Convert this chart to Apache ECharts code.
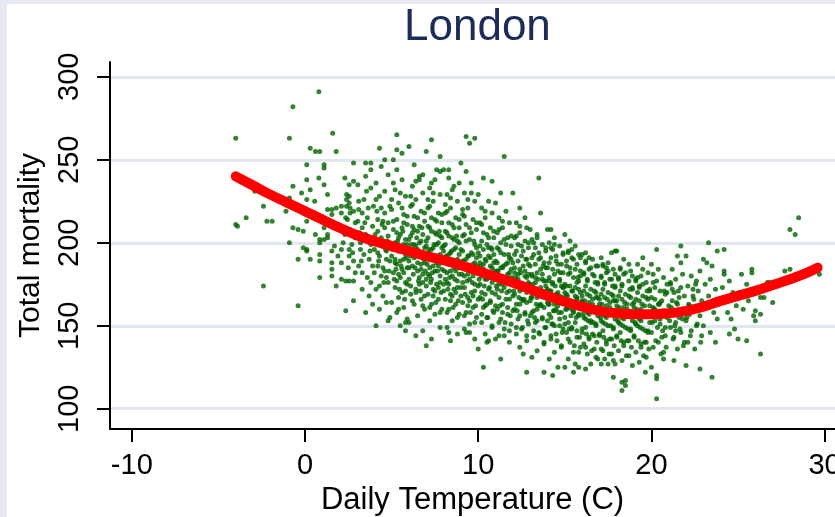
<!DOCTYPE html>
<html>
<head>
<meta charset="utf-8">
<title>London</title>
<script src="https://cdn.jsdelivr.net/npm/echarts@6/dist/echarts.min.js"></script>
<style>
  html, body { margin: 0; padding: 0; background: #e6e9f2; overflow: hidden; }
  #chart { width: 835px; height: 517px; }
</style>
</head>
<body>
<div id="chart"></div>
<script>
// ---- data: [daily temperature (C), total deaths] ----
var coldDays = [
  [-4.0,263],[-3.9,210],[-4.0,211],[-3.4,215],[-2.9,231],[-2.4,222],[-2.4,174],[-2.2,213],[-1.9,213],[-1.1,219],[-0.9,263],[-0.7,282],[-0.7,234],[-0.9,227],[-0.9,200],[-0.7,209],[-0.4,208],[-0.2,230],[-0.1,207],[-0.1,197],[-0.4,190],[-0.4,162],
  [0.8,291],[0.3,257],[0.6,255],[0.85,255],[0.1,247],[0.1,238],[0.8,239],[0.3,232],[0.1,226],[0.56,225],[0.1,213],[0.1,196],[0.1,195],[0.6,205],[0.85,202],[0.85,200],[0.3,190],[0.85,193],[0.85,189],[0.85,179],
  [1.6,266],[1.8,255],[1.1,247],[1.1,245],[1.1,235],[1.3,229],[1.3,220],[1.55,220],[1.8,221],[1.55,217],[1.1,202],[1.1,209],[1.3,205],[1.3,203],[1.55,195],[1.55,188],[1.55,184],[1.55,180],[1.8,174],[1.9,210],[1.7,198],[1.9,192],[1.4,213],
  [2.3,239],[2.55,235],[2.8,237],[2.8,248],[2.4,229],[2.55,228],[2.4,226],[2.55,224],[2.1,222],[2.4,222],[2.6,221],[2.1,218],[2.35,215],[2.6,218],[2.8,219],[2.1,178],[2.35,177],[2.55,177],[2.8,177],[2.8,165],[2.35,159],[2.1,196],[2.1,188],[2.55,196],[2.55,192],[2.8,189],[2.3,205],[2.6,208],[2.9,203],[2.2,200],[2.7,199],[2.9,212],[2.5,185],[2.9,182],
  [3.05,235],[3.5,248],[3.8,248],[3.8,244],[3.5,240],[3.55,231],[3.8,233],[3.1,220],[3.3,218],[3.05,213],[3.3,209],[3.5,205],[3.6,202],[3.8,199],[3.2,196],[3.4,193],[3.7,190],[3.9,186],[3.1,186],[3.3,182],[3.6,179],[3.8,176],[3.3,172],[3.7,168],[3.9,163],[3.5,158],[3.2,200],[3.9,210],[3.4,226],[3.6,215],[3.95,222],[3.1,225]
];
var mildDays = [
  [4.1,236],[4.3,228],[4.4,221],[4.2,214],[4.6,209],[4.8,204],[4.1,201],[4.5,198],[4.7,195],[4.3,192],[4.9,189],[4.2,186],[4.6,183],[4.4,180],[4.8,176],[4.1,172],[4.5,168],[4.7,164],[4.3,160],[4.9,155],[4.6,218],[4.2,207],[4.8,212],[4.4,203],[4.0,196],[4.7,190],[4.3,199],[4.5,185],[4.9,222],[4.1,226],[4.6,231],[4.8,241],[4.4,246],[4.3,174],[4.7,179],[4.2,194],[4.9,200],[4.5,213],[4.0,182],[4.1,150],[4.3,257],[4.6,250],[4.8,153],
  [5.1,250],[5.3,244],[5.6,238],[5.2,232],[5.8,228],[5.4,224],[5.0,220],[5.7,217],[5.3,214],[5.9,211],[5.1,208],[5.5,205],[5.8,202],[5.2,200],[5.6,197],[5.4,195],[5.0,192],[5.7,190],[5.3,187],[5.9,185],[5.1,182],[5.5,179],[5.8,176],[5.2,173],[5.6,170],[5.4,167],[5.0,164],[5.7,161],[5.3,158],[5.9,154],[5.5,150],[5.8,147],[5.6,209],[5.8,193],[5.1,198],[5.4,203],[5.7,182],[5.3,177],[5.9,216],[5.0,226],[5.5,230],[5.2,188],[5.8,171],[5.4,160],[5.6,221],[5.1,236],[5.9,199],[5.3,206],[5.7,212],[5.5,189],[5.3,265],[5.3,256],[5.6,254],[5.8,152],
  [6.0,258],[6.3,247],[6.6,240],[6.2,234],[6.8,230],[6.4,226],[6.1,222],[6.7,219],[6.3,216],[6.9,213],[6.2,210],[6.5,207],[6.8,205],[6.0,202],[6.6,200],[6.4,198],[6.1,196],[6.7,193],[6.3,191],[6.9,188],[6.2,186],[6.5,183],[6.8,181],[6.0,178],[6.6,175],[6.4,172],[6.1,169],[6.7,166],[6.3,163],[6.9,160],[6.5,156],[6.0,152],[6.8,147],[6.4,144],[6.6,210],[6.1,204],[6.9,197],[6.3,199],[6.7,184],[6.0,189],[6.5,215],[6.2,223],[6.8,176],[6.4,170],[6.1,192],[6.7,201],[6.3,208],[6.9,218],[6.0,185],[6.6,179],[6.4,237],[6.2,165],[6.8,194],[6.5,188],[6.1,228],[6.8,241],[6.6,238],
  [7.0,255],[7.3,262],[7.8,252],[7.6,244],[7.8,243],[7.2,233],[7.8,229],[7.4,225],[7.1,221],[7.7,218],[7.3,215],[7.9,212],[7.2,209],[7.5,206],[7.8,204],[7.0,201],[7.6,199],[7.4,197],[7.1,194],[7.7,192],[7.3,190],[7.9,188],[7.2,185],[7.5,183],[7.8,180],[7.0,178],[7.6,175],[7.4,172],[7.1,169],[7.7,166],[7.3,163],[7.9,160],[7.5,157],[7.2,153],[7.8,149],[7.3,142],[7.0,138],[7.1,210],[7.9,203],[7.3,196],[7.7,186],[7.0,191],[7.5,214],[7.2,222],[7.8,176],[7.4,168],[7.1,181],[7.7,200],[7.3,207],[7.9,217],[7.0,174],[7.6,188],[7.4,230],[7.2,161],[7.8,193],[7.5,171],[7.1,226],[7.6,205],[7.3,178],[7.9,184],[7.0,198],[7.5,238],[7.3,236],
  [8.0,244],[8.3,244],[8.3,239],[8.6,234],[8.2,229],[8.8,225],[8.4,221],[8.1,218],[8.7,215],[8.3,212],[8.9,209],[8.2,206],[8.5,203],[8.8,201],[8.0,198],[8.6,196],[8.4,194],[8.1,191],[8.7,189],[8.3,187],[8.9,185],[8.2,182],[8.5,180],[8.8,177],[8.0,175],[8.6,172],[8.4,169],[8.1,166],[8.7,163],[8.3,160],[8.9,157],[8.5,153],[8.2,149],[8.3,146],[8.8,145],[8.4,141],[8.1,207],[8.9,200],[8.3,193],[8.7,183],[8.0,188],[8.5,211],[8.2,219],[8.8,173],[8.4,165],[8.1,178],[8.7,197],[8.3,204],[8.9,214],[8.0,171],[8.6,185],[8.4,227],[8.2,158],[8.8,190],[8.5,168],[8.1,223],[8.6,202],[8.3,175],[8.9,181],[8.0,195],[8.5,232],[8.9,236],
  [9.3,264],[9.5,260],[9.8,263],[9.3,243],[9.0,248],[9.6,236],[9.2,230],[9.8,225],[9.4,221],[9.1,217],[9.7,214],[9.3,211],[9.9,208],[9.2,205],[9.5,202],[9.8,199],[9.0,196],[9.6,194],[9.4,192],[9.1,189],[9.7,187],[9.3,185],[9.9,183],[9.2,180],[9.5,178],[9.8,175],[9.0,173],[9.6,170],[9.4,167],[9.1,164],[9.7,161],[9.3,158],[9.9,155],[9.5,151],[9.2,148],[9.3,146],[9.5,146],[9.8,142],[9.1,204],[9.9,197],[9.3,190],[9.7,180],[9.0,186],[9.5,209],[9.2,216],[9.8,171],[9.4,162],[9.1,176],[9.7,193],[9.3,201],[9.9,212],[9.0,168],[9.6,183],[9.4,226],[9.2,156],[9.8,188],[9.5,165],[9.1,220],[9.6,230]
];
var warmDays = [
  [10.3,239],[10.8,237],[10.0,229],[10.6,225],[10.2,221],[10.8,218],[10.4,215],[10.1,212],[10.7,209],[10.3,206],[10.9,203],[10.2,201],[10.5,199],[10.8,196],[10.0,194],[10.6,192],[10.4,190],[10.1,188],[10.7,186],[10.3,184],[10.9,182],[10.2,180],[10.5,178],[10.8,176],[10.0,174],[10.6,172],[10.4,169],[10.1,167],[10.7,164],[10.3,161],[10.9,158],[10.5,155],[10.2,152],[10.8,149],[10.4,145],[10.6,141],[10.0,136],[10.5,140],[10.3,125],[10.1,198],[10.9,193],[10.3,187],[10.7,179],[10.0,183],[10.5,205],[10.2,211],[10.8,170],[10.4,162],[10.1,175],[10.7,191],[10.3,196],[10.9,207],[10.0,166],[10.6,181],[10.4,219],[10.2,157],[10.8,185],[10.5,163],[10.6,197],
  [11.5,252],[11.3,230],[11.0,224],[11.6,219],[11.2,215],[11.8,212],[11.4,209],[11.1,206],[11.7,203],[11.3,200],[11.9,198],[11.2,196],[11.5,193],[11.8,191],[11.0,189],[11.6,187],[11.4,185],[11.1,183],[11.7,181],[11.3,179],[11.9,177],[11.2,175],[11.5,173],[11.8,171],[11.0,169],[11.6,166],[11.4,163],[11.1,160],[11.7,157],[11.3,154],[11.9,151],[11.5,148],[11.2,144],[11.8,140],[11.0,142],[11.5,144],[11.3,130],[11.1,197],[11.9,190],[11.3,185],[11.7,176],[11.0,180],[11.5,202],[11.2,208],[11.8,166],[11.4,158],[11.1,172],[11.7,188],[11.3,194],[11.9,204],[11.0,162],[11.6,178],[11.4,213],[11.2,152],[11.8,182],
  [12.0,230],[12.4,221],[12.7,215],[12.2,212],[12.8,209],[12.4,206],[12.1,203],[12.7,201],[12.3,199],[12.9,197],[12.2,195],[12.5,192],[12.8,190],[12.0,188],[12.6,186],[12.4,184],[12.1,182],[12.7,180],[12.3,178],[12.9,176],[12.2,174],[12.5,172],[12.8,170],[12.0,168],[12.6,165],[12.4,163],[12.1,160],[12.7,157],[12.3,154],[12.9,151],[12.5,148],[12.2,145],[12.8,141],[12.4,137],[12.6,133],[12.8,122],[12.1,193],[12.9,187],[12.3,181],[12.7,173],[12.0,177],[12.5,198],[12.2,204],[12.8,164],[12.4,156],[12.1,169],[12.7,183],[12.3,189],[12.9,200],[12.0,159],[12.6,175],[12.4,210],[12.2,149],[12.8,179],[12.5,166],
  [13.5,239],[13.6,218],[13.0,208],[13.4,205],[13.1,202],[13.7,199],[13.3,197],[13.9,195],[13.2,193],[13.5,190],[13.8,188],[13.0,186],[13.6,184],[13.4,182],[13.1,180],[13.7,178],[13.3,176],[13.9,174],[13.2,172],[13.5,170],[13.8,168],[13.0,165],[13.6,163],[13.4,160],[13.1,158],[13.7,155],[13.3,152],[13.9,149],[13.5,146],[13.2,143],[13.8,139],[13.4,135],[13.1,131],[13.8,122],[13.1,191],[13.9,185],[13.3,179],[13.7,171],[13.0,174],[13.5,194],[13.2,200],[13.8,161],[13.4,153],[13.1,167],[13.7,181],[13.3,187],[13.9,197],[13.0,156],[13.6,173],[13.4,203],[13.2,147],[13.8,177],[13.5,162],
  [14.0,208],[14.2,208],[14.4,203],[14.1,200],[14.7,198],[14.3,196],[14.9,194],[14.2,191],[14.5,189],[14.8,187],[14.0,185],[14.6,183],[14.4,181],[14.1,179],[14.7,177],[14.3,175],[14.9,173],[14.2,171],[14.5,169],[14.8,167],[14.0,164],[14.6,162],[14.4,159],[14.1,157],[14.7,154],[14.3,151],[14.9,148],[14.5,145],[14.2,142],[14.8,138],[14.4,134],[14.1,130],[14.6,125],[14.3,120],[14.1,188],[14.9,182],[14.3,176],[14.7,168],[14.0,172],[14.5,192],[14.2,197],[14.8,158],[14.4,150],[14.1,163],[14.7,178],[14.3,184],[14.9,193],[14.0,153],[14.6,170],[14.4,199],[14.2,144],[14.8,174],[14.5,160],
  [15.0,205],[15.3,201],[15.6,198],[15.2,195],[15.8,193],[15.4,191],[15.1,189],[15.7,187],[15.3,185],[15.9,183],[15.2,181],[15.5,179],[15.8,177],[15.0,175],[15.6,173],[15.4,171],[15.1,169],[15.7,167],[15.3,165],[15.9,163],[15.2,161],[15.5,159],[15.8,157],[15.0,155],[15.6,152],[15.4,149],[15.1,146],[15.7,143],[15.3,140],[15.9,137],[15.5,134],[15.2,130],[15.0,125],[15.6,127],[15.8,125],[15.5,122],[15.1,186],[15.9,180],[15.3,174],[15.7,166],[15.0,170],[15.5,190],[15.2,194],[15.8,156],[15.4,148],[15.1,160],[15.7,176],[15.3,182],[15.9,191],[15.0,151],[15.6,168],[15.4,196],[15.2,142],[15.8,172],[15.5,158]
];
var hotDays = [
  [16.2,194],[16.0,193],[16.6,190],[16.2,188],[16.8,186],[16.4,184],[16.1,182],[16.7,180],[16.3,178],[16.9,176],[16.2,174],[16.5,172],[16.8,170],[16.0,168],[16.6,166],[16.4,164],[16.1,162],[16.7,160],[16.3,158],[16.9,156],[16.2,154],[16.5,152],[16.8,150],[16.0,148],[16.6,145],[16.4,142],[16.1,139],[16.7,136],[16.3,133],[16.9,130],[16.5,127],[16.2,124],[16.1,181],[16.9,175],[16.3,169],[16.7,161],[16.0,165],[16.5,185],[16.2,189],[16.8,151],[16.4,143],[16.1,155],[16.7,171],[16.3,177],[16.9,186],[16.0,146],[16.6,163],[16.4,191],[16.2,137],[16.8,167],[16.5,153],
  [17.9,195],[17.7,194],[17.1,191],[17.5,188],[17.2,186],[17.8,184],[17.4,182],[17.1,180],[17.7,178],[17.3,176],[17.9,174],[17.2,172],[17.5,170],[17.8,168],[17.0,166],[17.6,164],[17.4,162],[17.1,160],[17.7,158],[17.3,156],[17.9,154],[17.2,152],[17.5,150],[17.8,148],[17.0,145],[17.6,142],[17.4,139],[17.1,136],[17.7,133],[17.3,130],[17.9,127],[17.1,127],[17.5,127],[17.8,119],[17.1,179],[17.9,173],[17.3,167],[17.7,159],[17.0,163],[17.5,183],[17.2,187],[17.8,149],[17.4,141],[17.1,153],[17.7,169],[17.3,175],[17.9,181],[17.0,144],[17.6,161],[17.4,185],[17.2,135],[17.8,165],
  [18.0,195],[18.4,190],[18.7,187],[18.2,185],[18.8,183],[18.4,181],[18.1,179],[18.7,177],[18.3,175],[18.9,173],[18.2,171],[18.5,169],[18.8,167],[18.0,165],[18.6,163],[18.4,161],[18.1,159],[18.7,157],[18.3,155],[18.9,153],[18.2,151],[18.5,149],[18.8,147],[18.0,144],[18.6,141],[18.4,138],[18.1,135],[18.7,132],[18.3,129],[18.9,126],[18.3,116],[18.5,117],[18.5,114],[18.3,111],[18.1,178],[18.9,172],[18.3,166],[18.7,158],[18.0,162],[18.5,182],[18.2,184],[18.8,148],[18.4,140],[18.1,152],[18.7,168],[18.3,174],[18.9,180],[18.0,143],[18.6,160],
  [19.5,191],[19.5,184],[19.2,187],[19.8,182],[19.4,180],[19.1,178],[19.7,176],[19.3,174],[19.9,172],[19.2,170],[19.5,168],[19.8,166],[19.0,164],[19.6,162],[19.4,160],[19.1,158],[19.7,156],[19.3,154],[19.9,152],[19.2,150],[19.5,148],[19.8,146],[19.0,143],[19.6,140],[19.4,137],[19.1,134],[19.7,131],[19.3,128],[19.65,122],[19.1,177],[19.9,171],[19.3,165],[19.7,157],[19.0,161],[19.5,175],[19.2,179],[19.8,147],[19.4,139],[19.1,151],[19.7,167],[19.3,173],[19.0,144],
  [20.3,196],[20.0,187],[20.4,184],[20.1,181],[20.7,179],[20.3,177],[20.9,175],[20.2,173],[20.5,171],[20.8,169],[20.0,167],[20.6,165],[20.4,163],[20.1,161],[20.7,159],[20.3,157],[20.9,155],[20.2,153],[20.5,151],[20.8,149],[20.0,146],[20.6,143],[20.4,140],[20.1,137],[20.7,134],[20.7,130],[20.0,125],[20.3,120],[20.3,118],[20.3,106],[20.1,176],[20.9,170],[20.5,164],[20.6,156],[20.2,160],[20.8,144],
  [21.7,198],[21.7,188],[21.5,192],[21.2,184],[21.8,181],[21.4,178],[21.1,176],[21.7,173],[21.3,170],[21.9,168],[21.2,165],[21.5,163],[21.8,160],[21.0,158],[21.6,155],[21.4,152],[21.1,149],[21.7,146],[21.3,143],[21.9,140],[21.5,136],[21.3,129],[21.2,172],[21.6,167],[21.0,162],[21.8,154],[21.4,147],[21.1,175],
  [22.0,192],[22.8,183],[22.3,180],[22.6,177],[22.1,174],[22.7,171],[22.4,168],[22.9,165],[22.2,162],[22.5,159],[22.8,156],[22.0,153],[22.6,150],[22.3,147],[22.9,144],[22.1,140],[22.5,136],[22.0,126],[22.8,124],[22.4,172],[22.7,161],[22.2,157],
  [23.3,200],[23.0,190],[23.2,188],[23.5,186],[23.4,178],[23.1,175],[23.7,172],[23.3,168],[23.9,165],[23.2,161],[23.6,158],[23.8,154],[23.0,150],[23.4,146],[23.5,119],[23.7,140],[23.1,163],
  [24.2,196],[23.8,195],[24.2,183],[24.2,181],[24.5,177],[24.1,173],[24.7,170],[24.3,166],[24.9,162],[24.4,158],[24.8,148],[24.5,145],[24.6,154],
  [25.2,181],[25.8,184],[25.8,182],[25.5,175],[25.1,170],[25.6,165],[25.3,160],[25.9,156],[25.0,142],[25.5,141],
  [26.0,159],[26.3,157],[26.0,153],[26.3,167],[26.5,167],[26.3,133],[26.7,176],[26.5,173],[26.8,176],
  [27.0,164],[27.7,183],[28.0,184],[28.5,215],[28.0,208],[28.3,205],[29.7,181]
];
// extra days in the crowded middle of the cloud
var coreDays = [
  [2.15,207],[2.45,214],[2.75,194],[3.15,206],[3.45,212],[3.75,195],[3.25,189],[3.65,221],[4.05,205],[4.25,189],[4.45,211],[4.65,196],[4.85,183],[4.15,219],[4.55,176],[4.75,201],
  [5.05,196],[5.25,184],[5.45,172],[5.65,207],[5.85,191],[5.15,178],[5.35,201],[5.55,186],[5.75,166],[5.95,195],[5.1,213],[5.4,181],[5.7,199],[5.9,175],[5.2,190],[5.6,184],
  [6.05,194],[6.25,181],[6.45,203],[6.65,171],[6.85,190],[6.15,199],[6.35,185],[6.55,177],[6.75,209],[6.95,183],[6.1,174],[6.4,192],[6.7,187],[6.9,168],[6.2,206],[6.5,196],[6.8,162],
  [7.05,187],[7.25,176],[7.45,199],[7.65,183],[7.85,170],[7.15,196],[7.35,182],[7.55,164],[7.75,207],[7.95,191],[7.1,203],[7.4,186],[7.7,173],[7.9,197],[7.2,180],[7.5,192],[7.8,158],[7.6,213],
  [8.05,183],[8.25,172],[8.45,195],[8.65,178],[8.85,165],[8.15,192],[8.35,179],[8.55,161],[8.75,204],[8.95,188],[8.1,199],[8.4,183],[8.7,170],[8.9,193],[8.2,176],[8.5,187],[8.8,155],[8.6,209],
  [9.05,181],[9.25,169],[9.45,192],[9.65,176],[9.85,162],[9.15,189],[9.35,177],[9.55,158],[9.75,201],[9.95,186],[9.1,195],[9.4,181],[9.7,168],[9.9,191],[9.2,173],[9.5,185],[9.8,152],[9.6,206],
  [10.05,178],[10.25,166],[10.45,189],[10.65,173],[10.85,159],[10.15,186],[10.35,174],[10.55,155],[10.75,197],[10.95,183],[10.1,192],[10.4,178],[10.7,165],[10.9,188],[10.2,170],[10.5,182],[10.8,150],[10.6,203],
  [11.05,174],[11.25,162],[11.45,186],[11.65,170],[11.85,156],[11.15,183],[11.35,171],[11.55,152],[11.75,193],[11.95,179],[11.1,188],[11.4,175],[11.7,161],[11.9,184],[11.2,167],[11.5,178],[11.8,147],[11.6,199],
  [12.05,171],[12.25,159],[12.45,182],[12.65,166],[12.85,153],[12.15,179],[12.35,167],[12.55,149],[12.75,190],[12.95,175],[12.1,185],[12.4,171],[12.7,158],[12.9,181],[12.2,163],[12.5,174],[12.8,144],[12.6,195],
  [13.05,167],[13.25,155],[13.45,178],[13.65,162],[13.85,149],[13.15,175],[13.35,163],[13.55,145],[13.75,186],[13.95,171],[13.1,181],[13.4,167],[13.7,154],[13.9,177],[13.2,159],[13.5,170],[13.8,140],[13.6,191],
  [14.05,163],[14.25,151],[14.45,174],[14.65,158],[14.85,146],[14.15,171],[14.35,159],[14.55,141],[14.75,182],[14.95,167],[14.1,177],[14.4,163],[14.7,150],[14.9,173],[14.2,155],[14.5,166],[14.8,137],[14.6,187],
  [15.05,160],[15.25,148],[15.45,171],[15.65,155],[15.85,143],[15.15,168],[15.35,156],[15.55,138],[15.75,179],[15.95,164],[15.1,174],[15.4,160],[15.7,147],[15.9,170],[15.2,152],[15.5,163],[15.8,134],[15.6,184],
  [16.05,157],[16.25,145],[16.45,168],[16.65,152],[16.85,140],[16.15,165],[16.35,153],[16.55,135],[16.75,176],[16.95,161],[16.1,171],[16.4,157],[16.7,144],[16.9,167],[16.2,149],[16.5,160],[16.8,131],[16.6,181],
  [17.05,155],[17.25,143],[17.45,166],[17.65,150],[17.85,138],[17.15,163],[17.35,151],[17.55,133],[17.75,174],[17.95,159],[17.1,169],[17.4,155],[17.7,142],[17.9,165],[17.2,147],[17.5,158],[17.8,129],[17.6,178],
  [18.05,153],[18.25,141],[18.45,164],[18.65,148],[18.85,137],[18.15,161],[18.35,150],[18.55,132],[18.75,172],[18.95,157],[18.1,168],[18.4,154],[18.7,141],[18.9,163],[18.2,146],[18.5,156],
  [19.05,152],[19.25,141],[19.45,163],[19.65,147],[19.85,136],[19.15,160],[19.35,149],[19.55,132],[19.75,171],[19.95,156],[19.1,166],[19.4,153],[19.7,140],[19.9,162],
  [20.05,152],[20.25,141],[20.45,163],[20.65,147],[20.85,137],[20.15,160],[20.35,149],[20.55,133],[20.75,171],[20.95,156],[20.2,166],[20.5,154],
  [21.05,153],[21.25,142],[21.45,164],[21.65,148],[21.85,138],[21.15,161],[21.35,150],[21.55,171],[21.75,157],
  [22.05,155],[22.25,144],[22.45,166],[22.65,151],[22.85,140],[22.15,163],[22.55,175]
];

// smoothed fit (red curve)
var fitTemp   = [-4, -3, -2, -1, 0, 1, 2, 3, 4, 5, 6, 7, 8, 9, 10, 11, 12, 13, 14, 15, 16, 17, 18, 19, 20, 21, 22, 23, 24, 25, 26, 27, 28, 29, 29.6];
var fitDeaths = [240, 234.5, 229, 224, 219, 214, 209, 204.5, 201, 198, 195, 192, 189.5, 186.5, 183, 179.5, 176, 172, 168, 164.5, 161.5, 159, 157.5, 157, 157, 157.5, 159, 161.5, 165, 168, 171, 174.5, 178, 182, 185];

var xTicks = [-10, 0, 10, 20, 30];
var yTicks = [100, 150, 200, 250, 300];

var font = "'Liberation Sans', Arial, sans-serif";
var chart = echarts.init(document.getElementById('chart'));

var fitLine = [];
for (var i = 0; i < fitTemp.length; i++) {
  fitLine.push([fitTemp[i], fitDeaths[i]]);
}
var allDays = coldDays.concat(mildDays, warmDays, hotDays, coreDays);

chart.setOption({
  backgroundColor: '#e6e9f2',
  animation: false,
  graphic: [{
    type: 'rect', left: 7, top: 4, z: -10,
    shape: { width: 830, height: 515 },
    style: { fill: '#ffffff' }
  }],
  title: {
    text: 'London',
    left: 404,
    top: 6,
    padding: 0,
    textStyle: { fontFamily: font, fontSize: 44, fontWeight: 'normal', color: '#1c2b57' }
  },
  grid: { left: 110, right: 0, top: 62, bottom: 88, outerBoundsMode: 'none', containLabel: false },
  xAxis: {
    type: 'value',
    min: -11.26,
    max: 30.6,
    name: 'Daily Temperature (C)',
    nameLocation: 'middle',
    nameGap: 53,
    nameTextStyle: { fontFamily: font, fontSize: 31, color: '#000' },
    axisLine: { onZero: false, lineStyle: { color: '#000', width: 2 } },
    axisTick: { customValues: xTicks, length: 13, lineStyle: { color: '#000', width: 2 } },
    axisLabel: { customValues: xTicks, margin: 22, fontFamily: font, fontSize: 29, color: '#000', hideOverlap: false },
    splitLine: { show: false }
  },
  yAxis: {
    type: 'value',
    min: 87.8,
    max: 308.9,
    name: 'Total mortality',
    nameLocation: 'middle',
    nameGap: 64,
    nameTextStyle: { fontFamily: font, fontSize: 30, color: '#000' },
    axisLine: { show: true, onZero: false, lineStyle: { color: '#000', width: 2 } },
    axisTick: { show: true, customValues: yTicks, length: 13, lineStyle: { color: '#000', width: 2 } },
    axisLabel: { customValues: yTicks, rotate: 90, margin: 26, fontFamily: font, fontSize: 29, color: '#000' },
    splitLine: { show: true, lineStyle: { color: '#e2e6f0', width: 3 } }
  },
  series: [
    {
      type: 'scatter',
      data: allDays,
      symbol: 'circle',
      symbolSize: 5,
      itemStyle: { color: '#006400' },
      silent: true,
      z: 2
    },
    {
      type: 'line',
      data: fitLine,
      smooth: true,
      symbol: 'none',
      lineStyle: { color: '#ff0000', width: 10, cap: 'round', join: 'round' },
      silent: true,
      z: 3
    }
  ]
});
</script>
</body>
</html>
